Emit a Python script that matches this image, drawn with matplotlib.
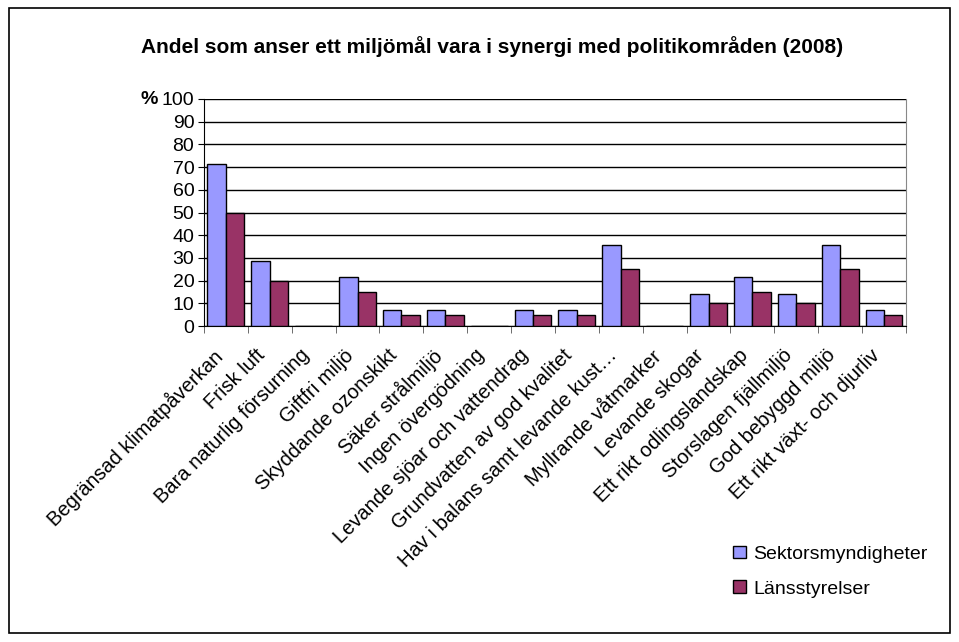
import matplotlib
matplotlib.use("Agg")
import matplotlib.pyplot as plt
from matplotlib.patches import Rectangle
import matplotlib.transforms as mtransforms
import numpy as np

plt.rcParams['font.family'] = ['Liberation Sans', 'DejaVu Sans']

categories = [
    "Begränsad klimatpåverkan", "Frisk luft", "Bara naturlig försurning",
    "Giftfri miljö", "Skyddande ozonskikt", "Säker strålmiljö",
    "Ingen övergödning", "Levande sjöar och vattendrag",
    "Grundvatten av god kvalitet", "Hav i balans samt levande kust…",
    "Myllrande våtmarker", "Levande skogar", "Ett rikt odlingslandskap",
    "Storslagen fjällmiljö", "God bebyggd miljö", "Ett rikt växt- och djurliv",
]
sektorsmyndigheter = [71.4, 28.6, 0, 21.4, 7.1, 7.1, 0, 7.1, 7.1, 35.7, 0, 14.3, 21.4, 14.3, 35.7, 7.1]
lansstyrelser = [50, 20, 0, 15, 5, 5, 0, 5, 5, 25, 0, 10, 15, 10, 25, 5]
yticks = [0, 10, 20, 30, 40, 50, 60, 70, 80, 90, 100]

fig = plt.figure(figsize=(9.59, 6.42), dpi=100)
fig.patches.append(Rectangle((0.009, 0.014), 0.982, 0.973, transform=fig.transFigure,
                             fill=False, edgecolor='black', linewidth=1.2))
ax = fig.add_axes([0.2127, 0.4922, 0.7320, 0.3536])

x = np.arange(len(categories))
w = 0.42
ax.bar(x - w/2, sektorsmyndigheter, w, color='#9999FF', edgecolor='black', linewidth=1.0,
       label='Sektorsmyndigheter', zorder=3)
ax.bar(x + w/2, lansstyrelser, w, color='#993366', edgecolor='black', linewidth=1.0,
       label='Länsstyrelser', zorder=3)

ax.set_xlim(-0.5, len(categories) - 0.5)
ax.set_ylim(0, 100)
ax.set_yticks(yticks)
ax.yaxis.grid(True, color='black', linewidth=1.0, zorder=0)
ax.tick_params(axis='y', labelsize=14, length=4, direction='out', pad=3)

ax.set_xticks(x)
ax.set_xticklabels(categories, rotation=45, ha='right', rotation_mode='anchor', fontsize=14.5)
ax.tick_params(axis='x', which='major', length=0, pad=12)
ax.set_xticks(np.arange(-0.5, len(categories), 1.0), minor=True)
ax.tick_params(axis='x', which='minor', length=5, direction='out', color='#555555')
offset = mtransforms.ScaledTranslation(-14/100, -3/100, fig.dpi_scale_trans)
for lbl in ax.get_xticklabels():
    lbl.set_transform(lbl.get_transform() + offset)

ax.spines['top'].set_visible(False)
ax.spines['right'].set_color('#888888')
ax.spines['left'].set_color('black')
ax.spines['bottom'].set_color('black')

fig.text(0.146, 0.845, '%', fontsize=14, fontweight='bold', ha='left', va='center')
fig.text(0.513, 0.927, 'Andel som anser ett miljömål vara i synergi med politikområden (2008)',
         fontsize=15, fontweight='bold', ha='center', va='center')

leg = fig.legend(loc='upper left', bbox_to_anchor=(0.746, 1 - 528/642),
                 bbox_transform=fig.transFigure, frameon=False, fontsize=14,
                 handlelength=0.65, handleheight=0.65, handletextpad=0.4, labelspacing=0.9)

fig.savefig('out.png', dpi=100)
